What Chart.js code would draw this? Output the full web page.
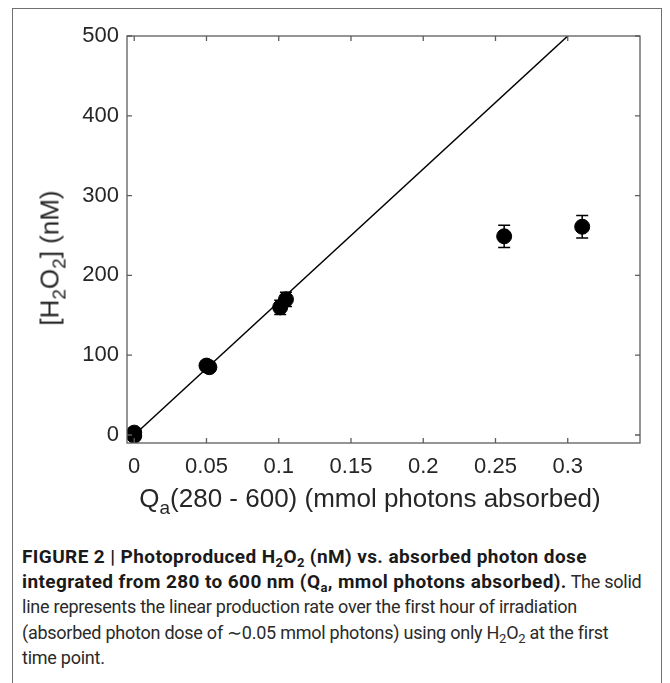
<!doctype html>
<html lang="en">
<head>
  <meta charset="utf-8">
  <title>Photoproduced H2O2 vs absorbed photon dose</title>
  <script src="https://cdn.jsdelivr.net/npm/chart.js"></script>
  <style>
    body { margin: 0; background: #fff; width: 670px; height: 683px; overflow: hidden; position: relative; font-family: "Liberation Sans", Arial, sans-serif; }
    #frame { position: absolute; left: 12px; top: 8px; width: 648px; height: 720px; border: 1.5px solid #707070; }
    #wrap { position: absolute; left: 0; top: 0; width: 670px; height: 520px; }
    .axt { position: absolute; color: #262626; font-size: 26px; white-space: nowrap; }
    #xt { left: 370px; top: 483px; transform: translateX(-50%); }
    #yt { left: 50px; top: 258px; transform: translate(-50%, -50%) rotate(-90deg); }
    .axt sub { font-size: 19px; vertical-align: -7px; line-height: 0; }
    #cap { position: absolute; left: 22px; top: 544px; font-family: Roboto, sans-serif; font-size: 18px; line-height: 25.2px; color: #2a2a2a; letter-spacing: -0.25px; white-space: nowrap; }
    #cap b { color: #1a1a1a; font-size: 19px; letter-spacing: 0.4px; }
    #cap sub { font-size: 13px; vertical-align: -4px; line-height: 0; }
  </style>
</head>
<body>
  <div id="frame"></div>
  <div id="wrap"><canvas id="qaChart" width="670" height="520"></canvas></div>
  <div class="axt" id="xt">Q<sub>a</sub>(280 - 600) (mmol photons absorbed)</div>
  <div class="axt" id="yt">[H<sub>2</sub>O<sub>2</sub>] (nM)</div>
  <div id="cap"><b>FIGURE 2 | Photoproduced H<sub>2</sub>O<sub>2</sub> (nM) vs. absorbed photon dose<br>integrated from 280 to 600 nm (Q<sub>a</sub>, mmol photons absorbed).</b> The solid<br>line represents the linear production rate over the first hour of irradiation<br>(absorbed photon dose of ∼0.05 mmol photons) using only H<sub>2</sub>O<sub>2</sub> at the first<br>time point.</div>

  <script>
    // measured points (x = absorbed photons, y = H2O2 with error)
    const qa = [0, 0, 0.050, 0.052, 0.101, 0.105, 0.256, 0.310];
    const h2o2 = [3, -1, 87, 85, 160, 170, 249, 261];
    const h2o2Err = [3, 3, 5, 5, 9, 9, 14, 14];
    // linear fit over first hour
    const fitX = [0, 0.3];
    const fitY = [0, 500];
    const xTicks = [0, 0.05, 0.1, 0.15, 0.2, 0.25, 0.3];
    const yTicks = [0, 100, 200, 300, 400, 500];

    const axisColor = '#5c5c5c';

    // error bars + matlab-like box with inward ticks
    const boxPlugin = {
      id: 'box',
      afterDatasetsDraw(chart) {
        const ctx = chart.ctx;
        const xs = chart.scales.x, ys = chart.scales.y;
        ctx.save();
        ctx.strokeStyle = '#000';
        ctx.lineWidth = 1.5;
        qa.forEach((q, i) => {
          const px = xs.getPixelForValue(q);
          const top = ys.getPixelForValue(h2o2[i] + h2o2Err[i]);
          const bot = ys.getPixelForValue(h2o2[i] - h2o2Err[i]);
          ctx.beginPath();
          ctx.moveTo(px, top); ctx.lineTo(px, bot);
          ctx.moveTo(px - 6, top); ctx.lineTo(px + 6, top);
          ctx.moveTo(px - 6, bot); ctx.lineTo(px + 6, bot);
          ctx.stroke();
        });
        const a = chart.chartArea;
        ctx.strokeStyle = axisColor;
        ctx.lineWidth = 1.3;
        ctx.strokeRect(a.left, a.top, a.right - a.left, a.bottom - a.top);
        ctx.beginPath();
        xTicks.forEach(t => {
          const p = xs.getPixelForValue(t);
          ctx.moveTo(p, a.bottom); ctx.lineTo(p, a.bottom - 5);
          ctx.moveTo(p, a.top); ctx.lineTo(p, a.top + 5);
        });
        yTicks.forEach(t => {
          const p = ys.getPixelForValue(t);
          ctx.moveTo(a.left, p); ctx.lineTo(a.left + 5, p);
          ctx.moveTo(a.right, p); ctx.lineTo(a.right - 5, p);
        });
        ctx.stroke();
        ctx.restore();
      }
    };

    const ctx = document.getElementById('qaChart').getContext('2d');
    new Chart(ctx, {
      data: {
        datasets: [
          {
            type: 'line',
            data: fitX.map((x, i) => ({ x, y: fitY[i] })),
            borderColor: '#000',
            borderWidth: 1.5,
            pointRadius: 0
          },
          {
            type: 'scatter',
            data: qa.map((x, i) => ({ x, y: h2o2[i] })),
            backgroundColor: '#000',
            borderColor: '#000',
            pointRadius: 7.5
          }
        ]
      },
      options: {
        responsive: false,
        animation: false,
        layout: { padding: { left: 0, top: 36, right: 30, bottom: 0 } },
        plugins: { legend: { display: false }, tooltip: { enabled: false } },
        scales: {
          x: {
            type: 'linear',
            min: -0.005,
            max: 0.35,
            afterBuildTicks: s => { s.ticks = xTicks.map(v => ({ value: v })); },
            afterFit: s => { s.height = 77; },
            grid: { display: false, drawTicks: false },
            border: { display: false },
            ticks: { padding: 11, color: '#262626', font: { family: 'Liberation Sans', size: 22 }, maxRotation: 0,
                     callback: v => String(v) }
          },
          y: {
            type: 'linear',
            min: -10,
            max: 500,
            afterBuildTicks: s => { s.ticks = yTicks.map(v => ({ value: v })); },
            afterFit: s => { s.width = 127; },
            grid: { display: false, drawTicks: false },
            border: { display: false },
            ticks: { padding: 8, color: '#262626', font: { family: 'Liberation Sans', size: 22 } }
          }
        }
      },
      plugins: [boxPlugin]
    });
  </script>
</body>
</html>
